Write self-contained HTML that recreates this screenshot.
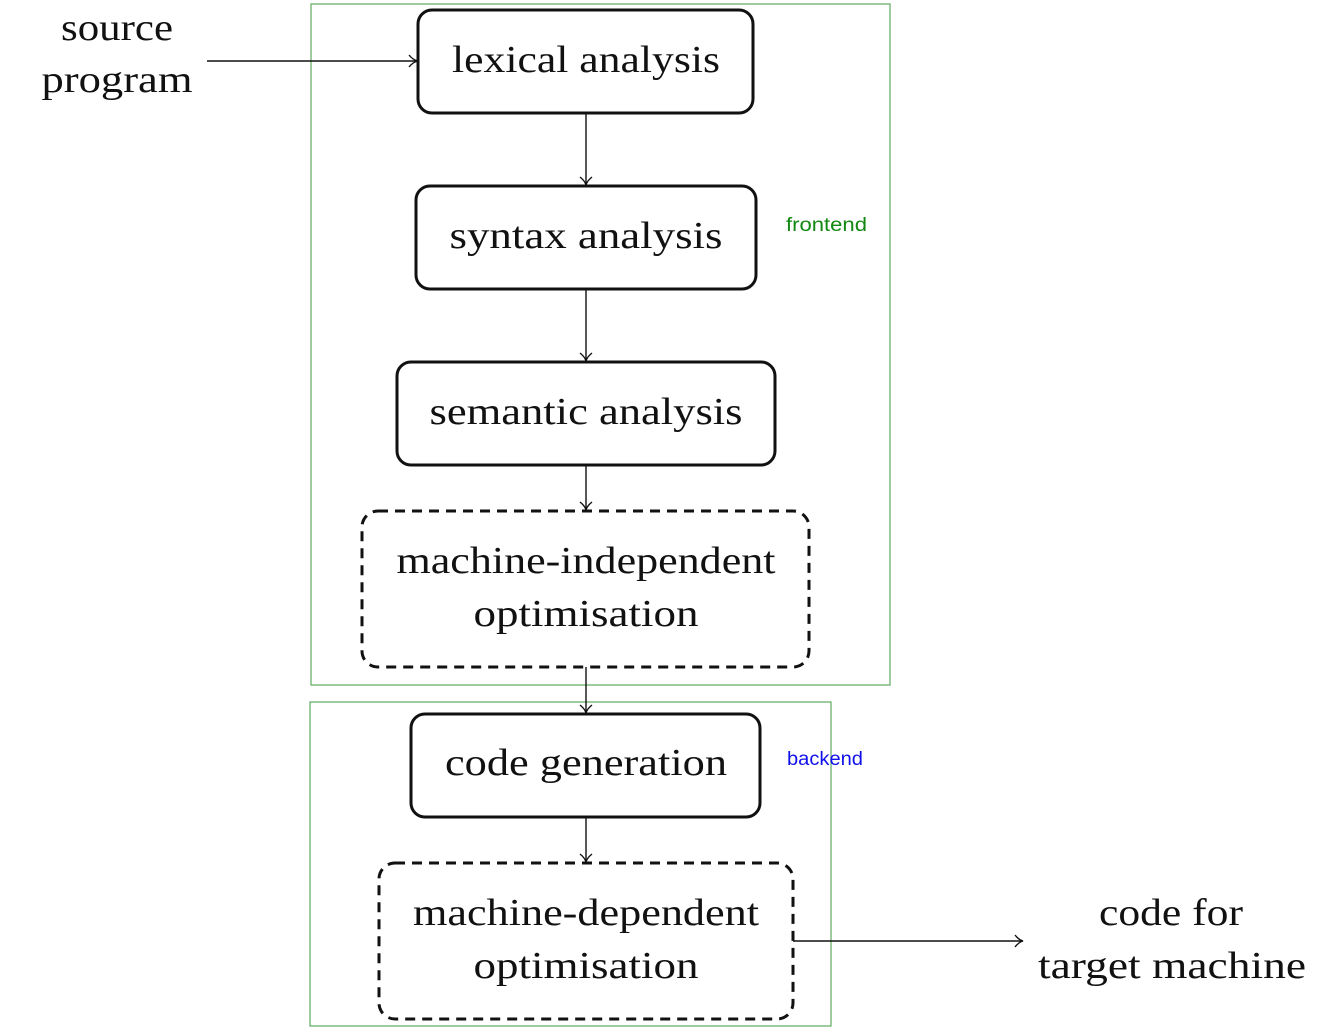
<!DOCTYPE html>
<html><head><meta charset="utf-8"><style>
html,body{margin:0;padding:0;background:#fff;}
svg{display:block;}
.t{font-family:"Liberation Serif",serif;font-size:38px;fill:#111;text-anchor:middle;}
.b{fill:none;stroke:#111;stroke-width:3;}
.d{fill:none;stroke:#111;stroke-width:3;stroke-dasharray:10,7;}
.a{fill:none;stroke:#111;stroke-width:1.4;}
</style></head><body>
<svg width="1319" height="1035" viewBox="0 0 1319 1035" xmlns="http://www.w3.org/2000/svg">
<rect x="311" y="4" width="579" height="681" fill="none" stroke="#6ab06a" stroke-width="1.3"/>
<rect x="310" y="702" width="521" height="324" fill="none" stroke="#6ab06a" stroke-width="1.3"/>
<text x="786" y="231" font-family="Liberation Sans,sans-serif" font-size="19" fill="#118811" textLength="81" lengthAdjust="spacingAndGlyphs">frontend</text>
<text x="787" y="765" font-family="Liberation Sans,sans-serif" font-size="19" fill="#1111ee" textLength="76" lengthAdjust="spacingAndGlyphs">backend</text>

<rect class="b" x="418" y="10" width="335" height="103" rx="14"/>
<rect class="b" x="416" y="186" width="340" height="103" rx="14"/>
<rect class="b" x="397" y="362" width="378" height="103" rx="14"/>
<rect class="d" x="362" y="511" width="447" height="156" rx="16"/>
<rect class="b" x="411" y="714" width="349" height="103" rx="14"/>
<rect class="d" x="379" y="863" width="414" height="156" rx="16"/>

<text class="t" x="586" y="72" textLength="268" lengthAdjust="spacingAndGlyphs">lexical analysis</text>
<text class="t" x="586" y="248" textLength="273" lengthAdjust="spacingAndGlyphs">syntax analysis</text>
<text class="t" x="586" y="424" textLength="313" lengthAdjust="spacingAndGlyphs">semantic analysis</text>
<text class="t" x="586" y="573" textLength="379" lengthAdjust="spacingAndGlyphs">machine-independent</text>
<text class="t" x="586" y="626" textLength="225" lengthAdjust="spacingAndGlyphs">optimisation</text>
<text class="t" x="586" y="775" textLength="282" lengthAdjust="spacingAndGlyphs">code generation</text>
<text class="t" x="586" y="925" textLength="346" lengthAdjust="spacingAndGlyphs">machine-dependent</text>
<text class="t" x="586" y="978" textLength="225" lengthAdjust="spacingAndGlyphs">optimisation</text>
<text class="t" x="117" y="40" textLength="112" lengthAdjust="spacingAndGlyphs">source</text>
<text class="t" x="117" y="92" textLength="151" lengthAdjust="spacingAndGlyphs">program</text>
<text class="t" x="1171" y="925" textLength="144" lengthAdjust="spacingAndGlyphs">code for</text>
<text class="t" x="1172" y="978" textLength="268" lengthAdjust="spacingAndGlyphs">target machine</text>

<g class="a">
<path d="M207 61 H417"/><path d="M409 55 Q413 60 418 61 Q413 62 409 67"/>
<path d="M586 113 V185"/><path d="M580 177 Q585 181 586 185 Q587 181 592 177"/>
<path d="M586 289 V361"/><path d="M580 353 Q585 357 586 361 Q587 357 592 353"/>
<path d="M586 465 V510"/><path d="M580 502 Q585 506 586 510 Q587 506 592 502"/>
<path d="M586 667 V713"/><path d="M580 705 Q585 709 586 713 Q587 709 592 705"/>
<path d="M586 817 V862"/><path d="M580 854 Q585 858 586 862 Q587 858 592 854"/>
<path d="M793 941 H1023"/><path d="M1015 935 Q1019 940 1023 941 Q1019 942 1015 947"/>
</g>
</svg>
</body></html>
